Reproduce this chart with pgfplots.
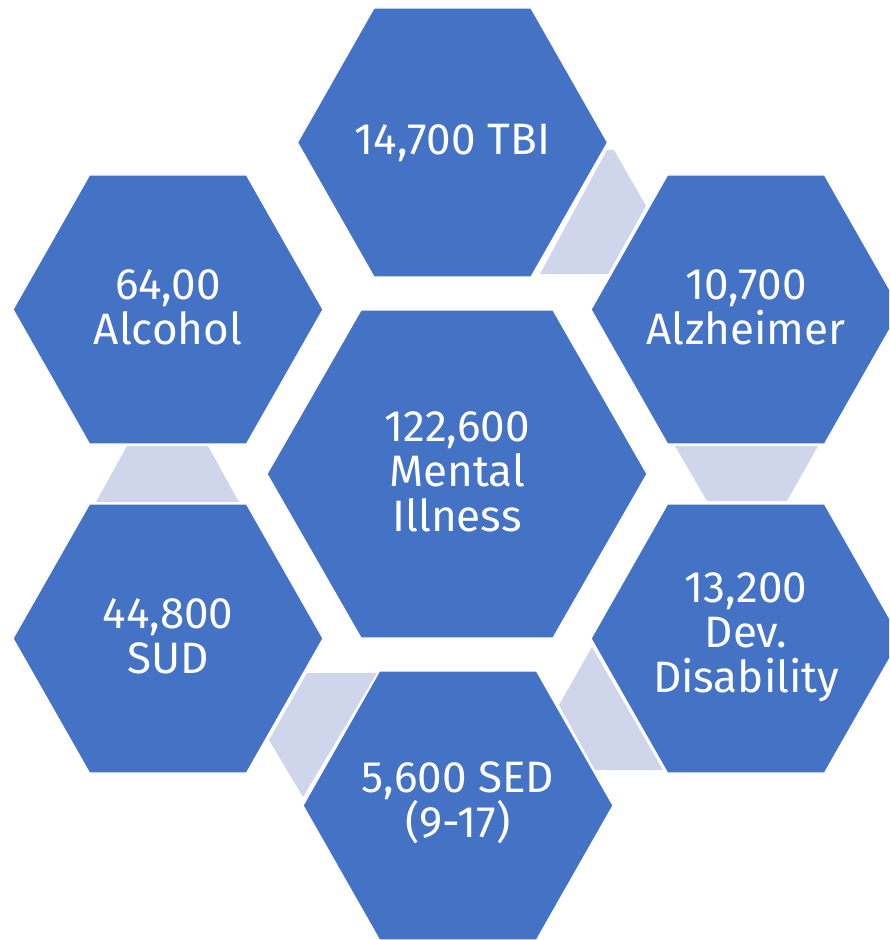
\documentclass[border=0pt]{standalone}
\usepackage{fontspec}
\setmainfont{Fira Sans}
\usepackage{pgfplots}
\pgfplotsset{compat=1.18}
\definecolor{hexblue}{HTML}{4472C4}
\definecolor{linkgray}{HTML}{CFD5EA}
\begin{document}
\begin{tikzpicture}
\begin{axis}[width=444.5pt, height=470pt, scale only axis,
  xmin=0, xmax=889, ymin=0, ymax=940, y dir=reverse,
  hide axis, clip=true]
% connectors
\addplot[fill=linkgray, draw=none] coordinates {(607,150) (614,150) (646,206) (608,274) (540,274)} -- cycle;
\addplot[fill=linkgray, draw=none] coordinates {(675,446) (818,446) (787,501) (707,501)} -- cycle;
\addplot[fill=linkgray, draw=none] coordinates {(127,446) (208,446) (239,502) (96,502)} -- cycle;
\addplot[fill=linkgray, draw=none] coordinates {(307,673) (377,673) (303,797) (269,740)} -- cycle;
\addplot[fill=linkgray, draw=none] coordinates {(592,647) (559,705) (595,770) (663,770)} -- cycle;
% hexagons
\addplot[fill=hexblue, draw=white, line width=0.6pt] coordinates {(297.5,142.5) (374,8) (531,8) (607.5,142.5) (531,277) (374,277)} -- cycle;
\addplot[fill=hexblue, draw=white, line width=0.6pt] coordinates {(13,309.5) (89.5,175) (246.5,175) (323,309.5) (246.5,444) (89.5,444)} -- cycle;
\addplot[fill=hexblue, draw=white, line width=0.6pt] coordinates {(591,309.5) (667.5,175) (824.5,175) (901,309.5) (824.5,444) (667.5,444)} -- cycle;
\addplot[fill=hexblue, draw=white, line width=0.6pt] coordinates {(267,474) (361,310) (553,310) (647,474) (553,638) (361,638)} -- cycle;
\addplot[fill=hexblue, draw=white, line width=0.6pt] coordinates {(13,638.5) (89.5,504) (246.5,504) (323,638.5) (246.5,773) (89.5,773)} -- cycle;
\addplot[fill=hexblue, draw=white, line width=0.6pt] coordinates {(591,638.5) (667.5,504) (824.5,504) (901,638.5) (824.5,773) (667.5,773)} -- cycle;
\addplot[fill=hexblue, draw=white, line width=0.6pt] coordinates {(303,805.5) (379.5,671) (536.5,671) (613,805.5) (536.5,940) (379.5,940)} -- cycle;
% labels
\tikzset{lbl/.style={align=center, text=white, font=\fontsize{22}{22.5}\selectfont, inner sep=0pt}}
\node[lbl] at (axis cs:452.5,142.5) {14,700 TBI};
\node[lbl] at (axis cs:168,307.5) {64,00\\Alcohol};
\node[lbl] at (axis cs:746,307.5) {10,700\\Alzheimer};
\node[lbl] at (axis cs:457,472) {122,600\\Mental\\Illness};
\node[lbl] at (axis cs:168,636) {44,800\\SUD};
\node[lbl] at (axis cs:746,637) {13,200\\Dev.\\Disability};
\node[lbl] at (axis cs:458,803) {5,600 SED\\(9-17)};
\end{axis}
\pgfresetboundingbox
\useasboundingbox (current axis.south west) rectangle (current axis.north east);
\end{tikzpicture}
\end{document}
